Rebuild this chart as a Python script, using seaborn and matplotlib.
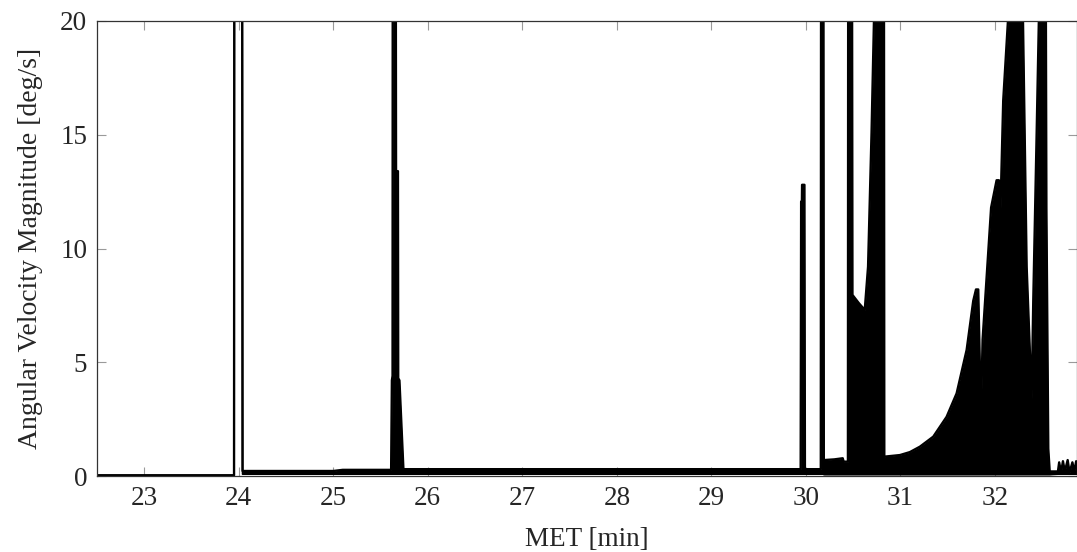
import numpy as np
import pandas as pd
import seaborn as sns
import matplotlib
matplotlib.use("Agg")
import matplotlib.pyplot as plt

# ---- data (MET in minutes, angular velocity in deg/s) ----
# values above 20 are off-chart (clipped at the top of the axes)
met_min = [22.50, 23.950, 23.953, 24.036, 24.040, 25.00, 25.10, 25.612, 25.620, 25.627,
           25.629, 25.661, 25.664, 25.684, 25.687, 25.700, 25.742, 29.945, 29.950, 29.958,
           29.960, 29.985, 29.990, 30.158, 30.161, 30.186, 30.190, 30.30, 30.39, 30.40,
           30.445, 30.448, 30.488, 30.493, 30.56, 30.623, 30.658, 30.695, 30.722, 30.826,
           30.830, 30.995, 31.10, 31.207, 31.348, 31.489, 31.595, 31.701, 31.771, 31.800,
           31.824, 31.852, 31.870, 31.960, 32.018, 32.043, 32.048, 32.053, 32.088, 32.141,
           32.283, 32.336, 32.389, 32.406, 32.442, 32.466, 32.537, 32.545, 32.565, 32.580,
           32.667, 32.680, 32.700, 32.720, 32.740, 32.770, 32.790, 32.820, 32.840, 32.860,
           32.874]
rate_max = [0.03, 0.03, 24.0, 24.0, 0.22, 0.22, 0.27, 0.27, 4.2, 4.4,
            24.0, 24.0, 13.4, 13.4, 4.3, 4.2, 0.30, 0.30, 12.06, 12.06,
            12.8, 12.8, 0.30, 0.30, 24.0, 24.0, 0.70, 0.73, 0.78, 0.63,
            0.63, 24.0, 24.0, 7.96, 7.6, 7.3, 9.2, 15.1, 20.3, 24.0,
            0.85, 0.92, 1.05, 1.29, 1.73, 2.6, 3.63, 5.54, 7.7, 8.2,
            8.2, 2.6, 6.0, 11.8, 13.0, 13.0, 5.4, 10.7, 16.5, 20.2,
            24.0, 9.2, 3.4, 7.7, 15.1, 20.2, 24.0, 11.8, 1.2, 0.20,
            0.20, 0.60, 0.15, 0.65, 0.20, 0.70, 0.15, 0.60, 0.20, 0.65,
            0.30]
rate_min = [0.03, 0.03, 24.0, 24.0, 0.08, 0.08, 0.08, 0.08, 0.08, 0.08,
            0.08, 0.08, 0.08, 0.08, 0.08, 0.08, 0.08, 0.08, 0.08, 0.08,
            0.08, 0.08, 0.08, 0.08, 0.08, 0.08, 0.06, 0.06, 0.06, 0.06,
            0.06, 0.06, 0.06, 0.06, 0.06, 0.06, 0.06, 0.06, 0.06, 0.06,
            0.06, 0.06, 0.06, 0.06, 0.06, 0.06, 0.06, 0.06, 0.06, 0.06,
            0.06, 0.06, 0.06, 0.06, 0.06, 0.06, 0.06, 0.06, 0.06, 0.06,
            0.06, 0.06, 0.06, 0.06, 0.06, 0.06, 0.06, 0.06, 0.06, 0.06,
            0.08, 0.08, 0.08, 0.08, 0.08, 0.08, 0.08, 0.08, 0.08, 0.08,
            0.08]

x_ticks = [23, 24, 25, 26, 27, 28, 29, 30, 31, 32]
y_ticks = [0, 5, 10, 15, 20]
x_label = "MET [min]"
y_label = "Angular Velocity Magnitude [deg/s]"

df = pd.DataFrame({"met": met_min, "wmax": rate_max, "wmin": rate_min})

sns.set_theme(style="white")
plt.rcParams["font.family"] = ["Liberation Serif", "DejaVu Serif"]

fig = plt.figure(figsize=(10.77, 5.52), dpi=100)
ax = fig.add_axes([97 / 1077, 76 / 552, (1077.5 - 97) / 1077, (476 - 21) / 552])

ax.fill_between(df["met"], df["wmin"], df["wmax"], color="black", linewidth=0)
sns.lineplot(data=df, x="met", y="wmax", estimator=None, sort=False,
             color="black", linewidth=1.7, ax=ax)
sns.lineplot(data=df, x="met", y="wmin", estimator=None, sort=False,
             color="black", linewidth=1.2, ax=ax)

ax.set_xlim(22.5, 32.874)
ax.set_ylim(0, 20)
ax.set_xticks(x_ticks)
ax.set_yticks(y_ticks)
ax.set_xticklabels([str(t) for t in x_ticks])
ax.set_yticklabels([str(t) for t in y_ticks])
ax.set_xlabel(x_label, fontsize=19.5, labelpad=12)
ax.set_ylabel(y_label, fontsize=20, labelpad=12)

ax.tick_params(axis="both", which="major", direction="in", length=6.5, width=0.8,
               color="#9a9a9a", labelsize=19.5, top=True, right=True,
               bottom=True, left=True, pad=7)
for s in ax.spines.values():
    s.set_color("#333333")
    s.set_linewidth(0.9)
    s.set_visible(True)

fig.savefig("out.png", dpi=100)
